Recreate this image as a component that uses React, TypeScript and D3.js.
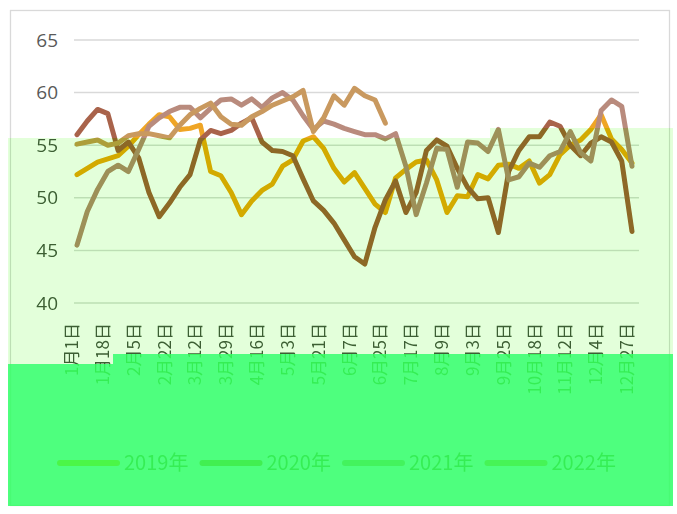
import React from 'react';
import * as d3 from 'd3';

const tickLabels = ['1月1日','1月18日','2月5日','2月22日','3月12日','3月29日','4月16日','5月3日','5月21日','6月7日','6月25日','7月17日','8月9日','9月3日','9月25日','10月18日','11月12日','12月4日','12月27日'];
const labelEvery = 3;

const yTicks = [40, 45, 50, 55, 60, 65];

const seriesNames = ['2019年', '2020年', '2021年', '2022年'];
const seriesColors = ['#efa525', '#a9634b', '#b98b7d', '#c9995f'];

const values2019 = [52.2,52.8,53.4,53.7,54.0,54.9,56.0,57.0,57.9,57.7,56.5,56.6,56.9,52.5,52.1,50.5,48.4,49.7,50.7,51.3,53.0,53.6,55.4,55.8,54.7,52.8,51.5,52.4,50.9,49.4,48.6,51.9,52.7,53.4,53.6,51.7,48.6,50.2,50.1,52.2,51.8,53.1,53.2,52.8,53.5,51.4,52.2,54.1,55.0,55.5,56.5,57.9,55.6,54.6,53.3];
const values2020 = [56.0,57.3,58.4,58.0,54.5,55.3,53.8,50.5,48.2,49.5,51.0,52.2,55.5,56.4,56.1,56.4,57.1,57.6,55.3,54.5,54.4,54.0,51.8,49.7,48.8,47.6,46.0,44.4,43.7,47.2,49.8,51.6,48.6,50.5,54.5,55.5,54.9,52.8,51.0,49.9,50.0,46.7,52.5,54.5,55.8,55.8,57.2,56.8,55.0,54.0,55.2,55.8,55.3,53.5,46.8];
const values2021 = [45.5,48.7,50.8,52.5,53.1,52.5,54.6,56.8,57.6,58.2,58.6,58.6,57.6,58.5,59.3,59.4,58.8,59.4,58.6,59.5,60.0,59.3,57.8,56.5,57.3,57.0,56.6,56.3,56.0,56.0,55.6,56.1,53.0,48.4,51.4,54.7,54.6,51.0,55.3,55.2,54.4,56.5,51.7,52.0,53.3,52.9,54.0,54.4,56.3,54.3,53.5,58.3,59.3,58.7,53.0];
const values2022 = [55.1,55.3,55.5,55.0,55.2,55.9,56.1,56.1,55.9,55.7,56.9,57.9,58.5,59.0,57.7,57.0,56.9,57.7,58.2,58.8,59.2,59.6,60.2,56.3,57.6,59.7,58.8,60.4,59.7,59.3,57.1];

const allSeries = [values2019, values2020, values2021, values2022];

export default function App() {
  const W = 677, H = 514;
  const n = values2019.length;
  const x = d3.scalePoint<number>().domain(d3.range(n)).range([77, 632]);
  const y = d3.scaleLinear().domain([40, 65]).range([303, 40]);
  const line = d3.line<number>().x((_, i) => x(i) as number).y(d => y(d));

  const lightBand = 'M8,138 L490,138 L490,128 L673,128 L673,354 L113,354 L113,364 L8,364 Z';
  const brightBand = 'M8,364 L113,364 L113,354 L673,354 L673,506 L8,506 Z';

  const legendX0 = 60, legendStep = 142.5, legendY = 463;

  return (
    <svg width={W} height={H} style={{ position: 'absolute', left: 0, top: 0, display: 'block' }}>
      <defs>
        <filter id="fLight" filterUnits="userSpaceOnUse" x={0} y={0} width={W} height={H} colorInterpolationFilters="sRGB">
          <feComponentTransfer>
            <feFuncR type="linear" slope={1} intercept={-0.106} />
            <feFuncG type="linear" slope={1} intercept={0.02} />
            <feFuncB type="linear" slope={1} intercept={-0.145} />
          </feComponentTransfer>
        </filter>
        <filter id="fBright" filterUnits="userSpaceOnUse" x={0} y={0} width={W} height={H} colorInterpolationFilters="sRGB">
          <feComponentTransfer>
            <feFuncR type="linear" slope={0.15} intercept={0.157} />
            <feFuncG type="linear" slope={0.1} intercept={0.9} />
            <feFuncB type="linear" slope={0.25} intercept={0.245} />
          </feComponentTransfer>
        </filter>
        <clipPath id="cLight"><path d={lightBand} /></clipPath>
        <clipPath id="cBright"><path d={brightBand} /></clipPath>
      </defs>

      <g id="base">
        <rect x={0} y={0} width={W} height={H} fill="#ffffff" />
        <rect x={10.5} y={10.5} width={659} height={495} fill="none" stroke="#d9d9d9" strokeWidth={1.3} />
        {yTicks.map(t => (
          <g key={t}>
            <line x1={74} x2={639} y1={y(t)} y2={y(t)} stroke="#d9d9d9" strokeWidth={1.5} />
            <text x={58} y={y(t)} dy="0.35em" textAnchor="end" fontFamily="'Open Sans', sans-serif" fontSize={19} fill="#595959">{t}</text>
          </g>
        ))}
        {d3.range(n).filter(i => i % labelEvery === 0).map(i => {
          const lx = (x(i) as number) + 1;
          const ly = 323;
          return (
            <text key={i} x={lx} y={ly} transform={`rotate(-90 ${lx} ${ly})`} textAnchor="end"
              fontFamily="'Noto Sans CJK SC', sans-serif" fontSize={17} fill="#595959">
              {tickLabels[i / labelEvery]}
            </text>
          );
        })}
        {allSeries.map((vals, s) => (
          <path key={s} d={line(vals) || ''} fill="none" stroke={seriesColors[s]} strokeWidth={5}
            strokeLinejoin="round" strokeLinecap="round" />
        ))}
        {seriesNames.map((name, s) => {
          const lx = legendX0 + s * legendStep;
          return (
            <g key={name}>
              <line x1={lx} x2={lx + 57} y1={legendY} y2={legendY} stroke={seriesColors[s]} strokeWidth={6} strokeLinecap="round" />
              <text x={lx + 64} y={legendY} dy="0.35em" fontFamily="'Noto Sans CJK SC', sans-serif" fontSize={20} fill="#595959">{name}</text>
            </g>
          );
        })}
      </g>
      <g clipPath="url(#cLight)">
        <use href="#base" filter="url(#fLight)" />
      </g>
      <g clipPath="url(#cBright)">
        <use href="#base" filter="url(#fBright)" />
      </g>
    </svg>
  );
}
